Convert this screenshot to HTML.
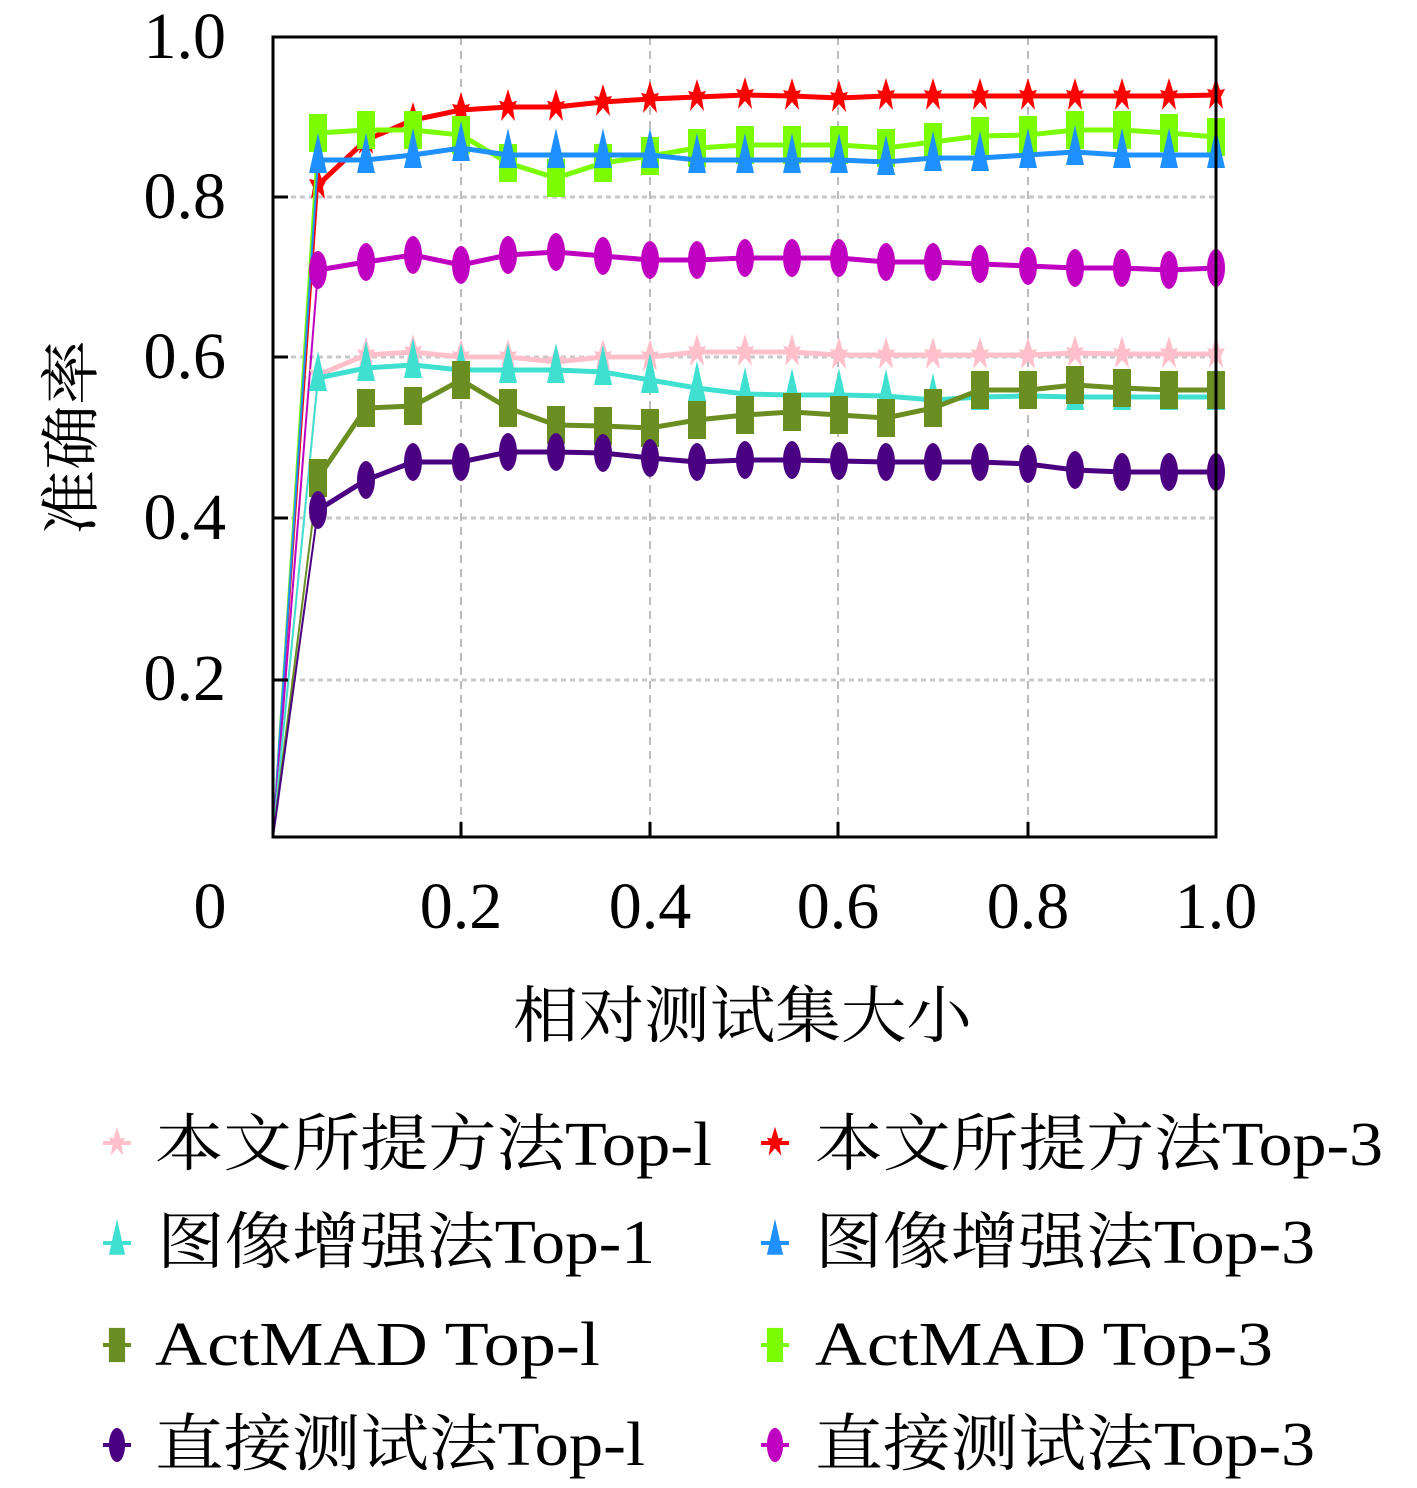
<!DOCTYPE html><html><head><meta charset="utf-8"><style>
body{margin:0;background:#fff;width:1417px;height:1483px;overflow:hidden}
text{font-family:"Liberation Serif","Noto Serif CJK SC",serif;fill:#000}
</style></head><body>
<svg id="s" width="1417" height="1483" xmlns="http://www.w3.org/2000/svg">
<g stroke="#bbb" stroke-width="2" stroke-dasharray="8,6">
<line x1="461" y1="37" x2="461" y2="837"/><line x1="650" y1="37" x2="650" y2="837"/><line x1="838" y1="37" x2="838" y2="837"/><line x1="1028" y1="37" x2="1028" y2="837"/>
</g>
<g stroke="#c8c8c8" stroke-width="3" stroke-dasharray="5,4">
<line x1="273" y1="197" x2="1216" y2="197"/><line x1="273" y1="357" x2="1216" y2="357"/><line x1="273" y1="518" x2="1216" y2="518"/><line x1="273" y1="680" x2="1216" y2="680"/>
</g>
<g id="series"></g>
<rect x="273" y="37" width="943" height="800" fill="none" stroke="#000" stroke-width="3"/>
<g stroke="#000" stroke-width="3">
<line x1="273" y1="197" x2="288" y2="197"/><line x1="273" y1="357" x2="288" y2="357"/><line x1="273" y1="518" x2="288" y2="518"/><line x1="273" y1="680" x2="288" y2="680"/>
<line x1="461" y1="837" x2="461" y2="822"/><line x1="650" y1="837" x2="650" y2="822"/><line x1="838" y1="837" x2="838" y2="822"/><line x1="1028" y1="837" x2="1028" y2="822"/>
</g>
<g font-size="66" text-anchor="end">
<text x="226" y="58">1.0</text><text x="226" y="218">0.8</text><text x="226" y="378">0.6</text><text x="226" y="539">0.4</text><text x="226" y="700">0.2</text>
</g>
<g font-size="66" text-anchor="middle">
<text x="210" y="928">0</text><text x="461" y="928">0.2</text><text x="650" y="928">0.4</text><text x="838" y="928">0.6</text><text x="1028" y="928">0.8</text><text x="1216" y="928">1.0</text>
</g>
<text x="513" y="1037" font-size="62" textLength="459" lengthAdjust="spacingAndGlyphs">相对测试集大小</text>
<text transform="translate(92,535) rotate(-90)" font-size="60" textLength="195" lengthAdjust="spacingAndGlyphs">准确率</text>
<g font-size="62" lengthAdjust="spacingAndGlyphs">
<text x="155" y="1165" textLength="557" lengthAdjust="spacingAndGlyphs">本文所提方法Top-l</text><text x="815" y="1165" textLength="568" lengthAdjust="spacingAndGlyphs">本文所提方法Top-3</text>
<text x="157" y="1263" textLength="498" lengthAdjust="spacingAndGlyphs">图像增强法Top-1</text><text x="815" y="1263" textLength="500" lengthAdjust="spacingAndGlyphs">图像增强法Top-3</text>
<text x="155" y="1365" textLength="445" lengthAdjust="spacingAndGlyphs">ActMAD Top-l</text><text x="815" y="1365" textLength="458" lengthAdjust="spacingAndGlyphs">ActMAD Top-3</text>
<text x="155" y="1465" textLength="490" lengthAdjust="spacingAndGlyphs">直接测试法Top-l</text><text x="815" y="1465" textLength="500" lengthAdjust="spacingAndGlyphs">直接测试法Top-3</text>
</g>
<g id="leg"></g>
</svg>
<script>
var X=[273,318,366,413,461,508,556,603,650,697,745,792,839,886,933,980,1028,1075,1122,1169,1216];
var S=[
["#ff0000","star",[185,140,120,110,107,107,102,99,97,95,96,98,96,96,96,96,96,96,96,95]],
["#7cfc00","sq",[133,130,130,135,163,178,163,156,148,145,145,145,148,142,136,135,130,130,133,137]],
["#1e90ff","tri",[160,160,155,148,155,155,155,155,160,160,160,160,162,158,158,155,152,155,155,155]],
["#c000c0","ell",[270,262,255,265,255,252,256,260,260,258,258,258,262,262,264,266,268,268,270,268]],
["#ffc0cb","star",[375,355,352,357,357,362,357,357,352,352,352,355,355,355,355,355,353,354,354,354]],
["#40e0d0","tri",[378,368,365,370,370,370,372,380,388,394,395,395,396,400,397,396,397,397,397,397]],
["#6b8e23","sq",[478,408,406,380,408,425,426,428,420,415,412,415,418,408,390,390,385,388,390,390]],
["#4b0082","ell",[510,480,462,462,452,452,453,458,462,460,460,461,462,462,462,464,470,472,472,472]]];
var NS="http://www.w3.org/2000/svg";
function el(p,t,a){var e=document.createElementNS(NS,t);for(var k in a)e.setAttribute(k,a[k]);p.appendChild(e);return e;}
function mk(p,type,c,x,y,sc){sc=sc||1;
 if(type=="star"){el(p,"path",{d:"M"+x+","+(y-18*sc)+"L"+(x+4*sc)+","+(y-5*sc)+"L"+(x+9*sc)+","+(y-6*sc)+"L"+(x+5*sc)+","+(y+2*sc)+"L"+(x+7*sc)+","+(y+14*sc)+"L"+x+","+(y+6*sc)+"L"+(x-7*sc)+","+(y+14*sc)+"L"+(x-5*sc)+","+(y+2*sc)+"L"+(x-9*sc)+","+(y-6*sc)+"L"+(x-4*sc)+","+(y-5*sc)+"Z",fill:c});}
 else if(type=="sq")el(p,"rect",{x:x-9*sc,y:y-19*sc,width:18*sc,height:38*sc,fill:c});
 else if(type=="tri")el(p,"path",{d:"M"+x+","+(y-27*sc)+"L"+(x+9*sc)+","+(y+13*sc)+"L"+(x-9*sc)+","+(y+13*sc)+"Z",fill:c});
 else el(p,"ellipse",{cx:x,cy:y,rx:9*sc,ry:19*sc,fill:c});}
var g=document.getElementById("series");
S.forEach(function(s){var pts=[[X[0],837]];for(var i=0;i<20;i++)pts.push([X[i+1],s[2][i]]);
 el(g,"line",{x1:pts[0][0],y1:pts[0][1],x2:pts[1][0],y2:pts[1][1],stroke:s[0],"stroke-width":2});
 el(g,"polyline",{points:pts.slice(1).map(function(p){return p.join(",")}).join(" "),fill:"none",stroke:s[0],"stroke-width":5});
 pts.slice(1).forEach(function(p){mk(g,s[1],s[0],p[0],p[1]);});});
var L=document.getElementById("leg");
var LP=[[4,117,1143],[0,775,1143],[5,117,1243],[2,775,1243],[6,117,1345],[1,775,1345],[7,117,1445],[3,775,1445]];
LP.forEach(function(q){var s=S[q[0]];el(L,"line",{x1:q[1]-14,y1:q[2],x2:q[1]+14,y2:q[2],stroke:s[0],"stroke-width":4});mk(L,s[1],s[0],q[1],q[2],0.9);});
</script>
</body></html>
